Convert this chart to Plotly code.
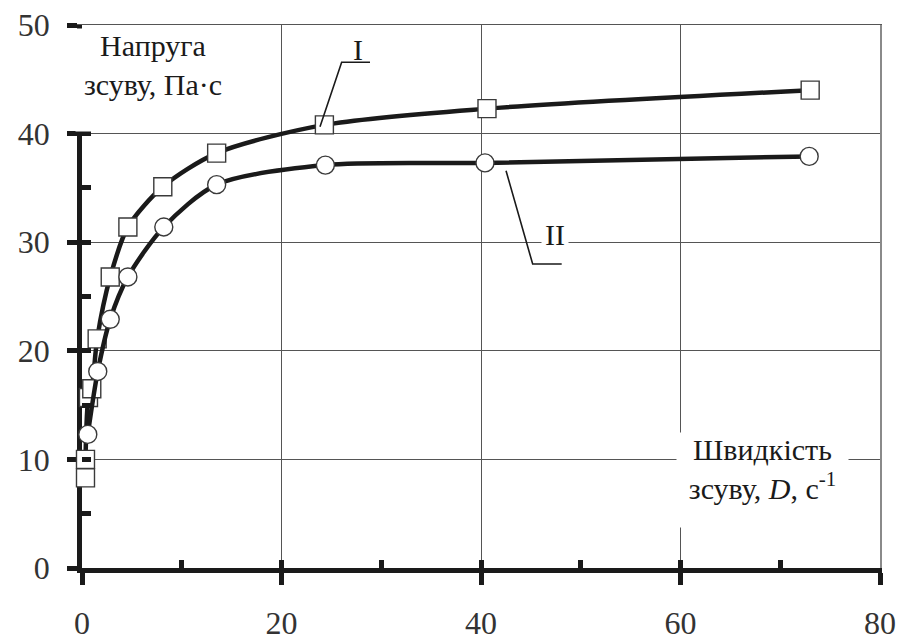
import plotly.graph_objects as go

# Shear rate D, 1/s, and shear stress, Pa, for the two samples
shear_rate_I = [0.35, 0.35, 0.65, 0.98, 1.52, 2.83, 4.6, 8.1, 13.5, 24.3, 40.6, 73.0]
stress_I = [8.3, 10.0, 15.7, 16.5, 21.1, 26.8, 31.4, 35.1, 38.2, 40.8, 42.3, 44.0]

shear_rate_II = [0.58, 1.58, 2.83, 4.6, 8.2, 13.5, 24.4, 40.4, 72.9]
stress_II = [12.3, 18.1, 22.9, 26.8, 31.4, 35.3, 37.1, 37.3, 37.9]

x_tick_vals = [0, 20, 40, 60, 80]
y_tick_vals = [0, 10, 20, 30, 40, 50]

X_RANGE = [0, 80]
Y_RANGE = [0, 50]

SERIF = "Liberation Serif"
INK = "#1a1a1a"
GRID = "#555555"

fig = go.Figure()

for xs, ys, symbol in ((shear_rate_I, stress_I, "square"),
                       (shear_rate_II, stress_II, "circle")):
    fig.add_trace(go.Scatter(
        x=xs, y=ys, mode="lines+markers",
        line=dict(color=INK, width=4.5, shape="spline", smoothing=0.8),
        marker=dict(symbol=symbol, size=18, color="white",
                    line=dict(color="#3a3a3a", width=1.4)),
        cliponaxis=False, showlegend=False, hoverinfo="skip",
    ))

# empty traces that carry the overlay axes (inner ticks, thin top/right frame)
fig.add_trace(go.Scatter(x=[], y=[], xaxis="x2", yaxis="y2",
                         showlegend=False, hoverinfo="skip"))
fig.add_trace(go.Scatter(x=[], y=[], xaxis="x3", yaxis="y3",
                         showlegend=False, hoverinfo="skip"))

axis_common = dict(
    showline=True, linecolor=INK, linewidth=4.5,
    showgrid=True, gridcolor=GRID, gridwidth=1,
    zeroline=False, layer="below traces", automargin=False,
    ticks="outside", tickcolor=INK, tickwidth=4.5,
    tickfont=dict(family=SERIF, size=32, color="#333333"),
)
bare = dict(showticklabels=False, showgrid=False, zeroline=False,
            automargin=False)

fig.update_layout(
    width=901, height=636,
    paper_bgcolor="white", plot_bgcolor="white",
    margin=dict(l=82, r=21, t=25, b=68, autoexpand=False),
    xaxis=dict(range=X_RANGE, tickvals=x_tick_vals, ticklen=12,
               ticklabelstandoff=11, **axis_common),
    yaxis=dict(range=Y_RANGE, tickvals=y_tick_vals, ticklen=10,
               ticklabelstandoff=11, **axis_common),
    xaxis2=dict(range=X_RANGE, overlaying="x", anchor="y", side="bottom",
                tickmode="linear", tick0=0, dtick=10, ticks="inside",
                ticklen=8, tickwidth=4.5, tickcolor=INK, showline=False,
                **bare),
    yaxis2=dict(range=Y_RANGE, overlaying="y", anchor="x", side="left",
                tickmode="linear", tick0=0, dtick=5, ticks="inside",
                ticklen=9, tickwidth=4.5, tickcolor=INK, showline=False,
                **bare),
    xaxis3=dict(range=X_RANGE, overlaying="x", anchor="y", side="top",
                ticks="", showline=True, linecolor=GRID, linewidth=1, **bare),
    yaxis3=dict(range=Y_RANGE, overlaying="y", anchor="x", side="right",
                ticks="", showline=True, linecolor="#8a8a8a", linewidth=1.5,
                **bare),
)

label_font = dict(family=SERIF, size=30, color=INK)

# axis titles on white boxes placed inside the plot
fig.add_annotation(
    x=7.12, y=44.96, xref="x", yref="y",
    text="Напруга<br>зсуву, Па·с", showarrow=False,
    font=label_font, bgcolor="white", borderpad=0,
    width=154, height=102, valign="top", align="center",
    xanchor="center", yanchor="middle",
)
fig.add_annotation(
    x=68.22, y=8.10, xref="x", yref="y",
    text="Швидкість<br>зсуву, <i>D</i>, с<sup>-1</sup>", showarrow=False,
    font=label_font, bgcolor="white", borderpad=0,
    width=171, height=94, valign="top", align="center",
    xanchor="center", yanchor="middle",
)

# curve labels with leader lines
fig.add_annotation(x=27.67, y=47.7, xref="x", yref="y", text="I",
                   showarrow=False, font=label_font,
                   xanchor="center", yanchor="middle")
fig.add_annotation(x=47.42, y=30.67, xref="x", yref="y", text="II",
                   showarrow=False, font=label_font, bgcolor="white",
                   borderpad=3, xanchor="center", yanchor="middle")

leader = dict(color=INK, width=1.6)
fig.add_shape(type="path", xref="x", yref="y",
              path="M 28.87 46.57 L 26.03 46.57 L 23.86 40.64", line=leader)
fig.add_shape(type="path", xref="x", yref="y",
              path="M 42.51 36.58 L 45.18 27.99 L 48.09 27.99", line=leader)

fig.write_html("out.html")
